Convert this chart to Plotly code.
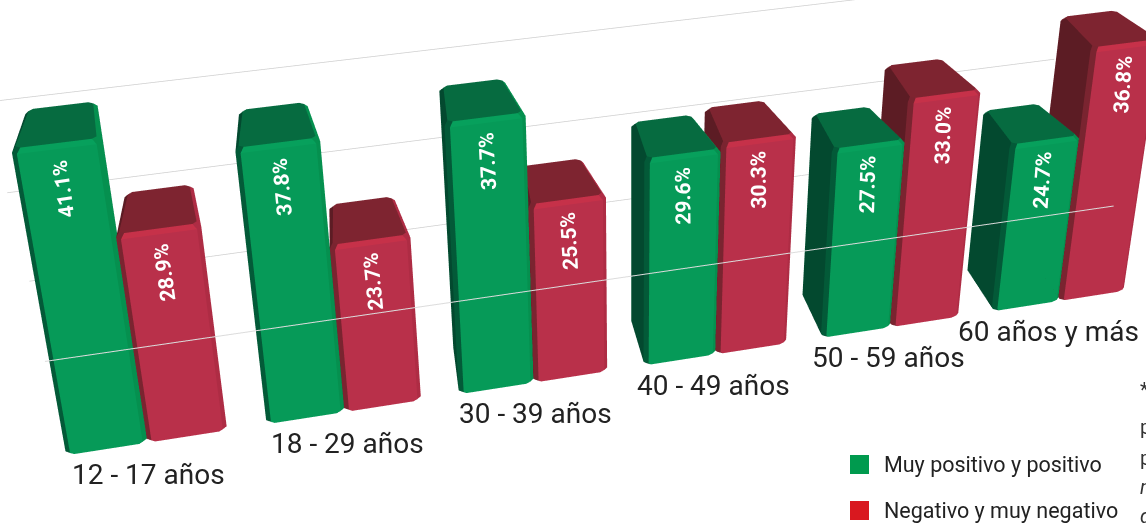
import plotly.graph_objects as go

# ---------- data ----------
age_groups = ["12 - 17 años", "18 - 29 años", "30 - 39 años", "40 - 49 años", "50 - 59 años", "60 años y más"]
positive = [41.1, 37.8, 37.7, 29.6, 27.5, 24.7]
negative = [28.9, 23.7, 25.5, 30.3, 33.0, 36.8]
back_grid_levels = [15.3, 27.8, 39.9]
front_grid_level = 15.3
legend_names = ["Muy positivo y positivo", "Negativo y muy negativo"]
note_fragments = ["*", "p", "p", "<i>n</i>", "<i>d</i>"]

# ---------- geometry of the view ----------
FIG = 1516                    # figure size that gives the reference's narrow field of view
SHIFT_X, SHIFT_Y = 241, 486   # page offset that puts the optical axis where the reference has it
PCT = 0.1124                  # scene width units per percentage point
STEP, RED_OFF, W, D = 2.75, 1.10, 1.10, 1.3
TAPER = 0.17                  # the back-left edge of each bar sits inward, as in the reference
S = 0.05                      # world to normalised scene scale
XR, YR, ZR = (-1.0, 17.0), (-2.0, 4.0), (-5.0, 50.0)
EYE = (1.47, -21.65, 14.08)
FORWARD = (0.193, 0.855, -0.482)
UP = (0.139, 0.462, 0.876)
DIST = 25.0
LABEL_X = [1.03, 3.72, 6.37, 8.98, 11.65, 14.2]


def norm(x, y, z_world):
    return dict(x=(x - sum(XR) / 2) * S,
                y=(y - sum(YR) / 2) * S,
                z=(z_world - sum(ZR) / 2 * PCT) * S)


GREEN = dict(front="#069a58", left="#03492f", frontc="#05904f", leftc="#035a38", top="#066b40", edge="#07a05c", corner="#04663c")
RED = dict(front="#b9304a", left="#5c1c24", frontc="#ae2c44", leftc="#7a2430", top="#7e2430", edge="#c63149", corner="#7a2430")


def bar_mesh(xs, heights, pal):
    vx, vy, vz, ii, jj, kk, fc = [], [], [], [], [], [], []
    c, b = 0.06, 0.06
    bz = b / PCT

    def ring(x0, inset, z):
        n = len(vx)
        x1, y0, y1 = x0 + W, 0.0, D
        pts = [(x0 + c, y0), (x1 - c, y0), (x1, y0 + c), (x1, y1 - c),
               (x1 - c, y1), (x0 + c, y1), (x0, y1 - c), (x0, y0 + c)]
        mx, my = x0 + W / 2, D / 2
        for px, py in pts:
            if px < mx and py > my:
                px += TAPER
            px += -inset if px > mx else inset
            py += -inset if py > my else inset
            vx.append(px); vy.append(py); vz.append(z)
        return n

    def tri(a, b_, c_, col):
        ii.append(a); jj.append(b_); kk.append(c_); fc.append(col)

    def band(r0, r1, cols):
        for s in range(8):
            a0, a1 = r0 + s, r0 + (s + 1) % 8
            b0, b1 = r1 + s, r1 + (s + 1) % 8
            tri(a0, a1, b1, cols[s]); tri(a0, b1, b0, cols[s])

    side = [pal["front"], pal["frontc"], pal["frontc"], pal["corner"],
            pal["top"], pal["corner"], pal["left"], pal["leftc"]]
    bevel = [pal["edge"], pal["frontc"], pal["frontc"], pal["corner"],
             pal["top"], pal["corner"], pal["left"], pal["leftc"]]
    for x0, h in zip(xs, heights):
        r0 = ring(x0, 0.05, 0)
        r1 = ring(x0, 0.0, bz)
        r2 = ring(x0, 0.0, h - bz)
        r3 = ring(x0, 0.05, h)
        band(r0, r1, side); band(r1, r2, side); band(r2, r3, bevel)
        for s in range(1, 7):
            tri(r3, r3 + s, r3 + s + 1, pal["top"])
    return vx, vy, vz, ii, jj, kk, fc


green_x = [STEP * g - 0.04 for g in range(len(positive))]
red_x = [x + RED_OFF for x in green_x]

fig = go.Figure()
for name, xs, vals, pal in [(legend_names[0], green_x, positive, GREEN), (legend_names[1], red_x, negative, RED)]:
    vx, vy, vz, ii, jj, kk, fc = bar_mesh(xs, vals, pal)
    fig.add_trace(go.Mesh3d(x=vx, y=vy, z=vz, i=ii, j=jj, k=kk, facecolor=fc, name=name,
                            flatshading=True, hoverinfo="skip",
                            lighting=dict(ambient=1, diffuse=0, specular=0, fresnel=0, roughness=1)))

# grid lines behind the bars, and the one that crosses in front of them
for lvl, x0, x1 in zip(back_grid_levels, [-0.25, -0.33, -0.3], [14.0, 15.4, 12.4]):
    fig.add_trace(go.Scatter3d(x=[x0, x1], y=[2.0, 2.0], z=[lvl, lvl], mode="lines", showlegend=False,
                               hoverinfo="skip", line=dict(color="#cfcfcf", width=1.5)))
fig.add_trace(go.Scatter3d(x=[-0.07, 15.3], y=[-0.3, -0.3], z=[front_grid_level] * 2, mode="lines", showlegend=False,
                           hoverinfo="skip", line=dict(color="#dcdcdc", width=2)))

# labels anchored in scene coordinates
scene_notes = []
for g, (gv, rv) in enumerate(zip(positive, negative)):
    angle = -90 + (-8 + 2.4 * g)
    for x0, v in ((green_x[g], gv), (red_x[g], rv)):
        scene_notes.append(dict(x=x0 + W / 2, y=0.0, z=v - 5.5, text=f"{v:.1f}%", showarrow=False, textangle=angle,
                                xanchor="center", yanchor="middle",
                                font=dict(family="Roboto", size=21, color="white", weight="bold")))
    scene_notes.append(dict(x=LABEL_X[g], y=-0.8, z=0.4, text=age_groups[g], showarrow=False,
                            xanchor="center", yanchor="middle",
                            font=dict(family="Roboto", size=28, color="#222222", weight=400)))


def px(x):
    return (x + SHIFT_X) / FIG


def py(y):
    return 1 - (y + SHIFT_Y) / FIG


shapes, notes = [], []
for name, col, top in [(legend_names[0], "#009a4e", 455), (legend_names[1], "#d9181f", 501)]:
    shapes.append(dict(type="rect", xref="paper", yref="paper", x0=px(850), x1=px(869), y0=py(top), y1=py(top + 19),
                       fillcolor=col, line=dict(width=0)))
    notes.append(dict(xref="paper", yref="paper", x=px(882), y=py(top + 9), text=name, showarrow=False,
                      xanchor="left", yanchor="middle", font=dict(family="Roboto", size=21.5, color="#222222")))
for txt, yy in zip(note_fragments, [390, 427, 458, 487, 516]):
    notes.append(dict(xref="paper", yref="paper", x=px(1138), y=py(yy), text=txt, showarrow=False,
                      xanchor="left", yanchor="middle", font=dict(family="Roboto", size=20, color="#333333")))

look = [EYE[i] + DIST * FORWARD[i] for i in range(3)]
fig.update_layout(
    width=FIG, height=FIG, margin=dict(l=0, r=0, t=0, b=0), paper_bgcolor="white", showlegend=False,
    shapes=shapes, annotations=notes,
    scene=dict(
        domain=dict(x=[0, 1], y=[0, 1]), bgcolor="white", aspectmode="manual",
        aspectratio=dict(x=(XR[1] - XR[0]) * S, y=(YR[1] - YR[0]) * S, z=(ZR[1] - ZR[0]) * PCT * S),
        xaxis=dict(visible=False, range=XR), yaxis=dict(visible=False, range=YR), zaxis=dict(visible=False, range=ZR),
        camera=dict(eye=norm(*EYE), center=norm(*look), up=dict(x=UP[0], y=UP[1], z=UP[2]),
                    projection=dict(type="perspective")),
        annotations=scene_notes,
    ),
)

post = f"""
document.documentElement.style.overflow='hidden';
document.body.style.margin='0';document.body.style.overflow='hidden';
var g=document.getElementById('{{plot_id}}');
g.style.position='absolute';g.style.left='-{SHIFT_X}px';g.style.top='-{SHIFT_Y}px';
"""
fig.write_html("out.html", post_script=post, config=dict(displayModeBar=False))
